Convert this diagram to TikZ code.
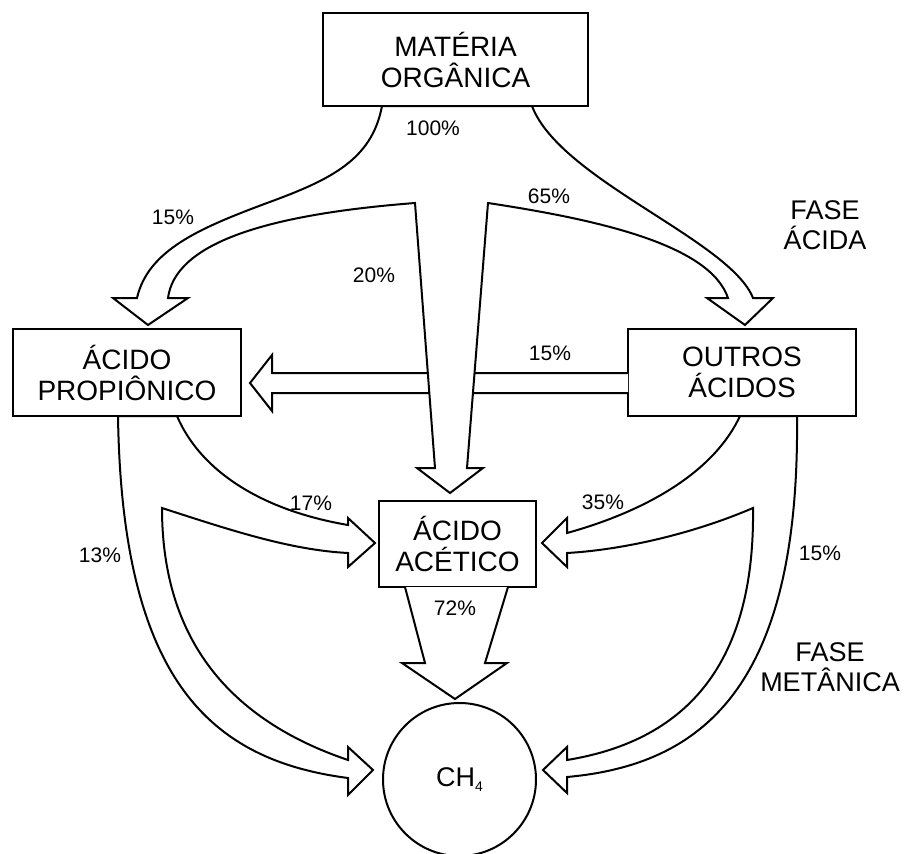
\documentclass[tikz,border=0pt]{standalone}
\usepackage{fontspec}
\setmainfont{Liberation Sans}
\usepackage{tikz}
\tikzstyle{caixa} = [rectangle, draw=black, line width=2pt, align=center, inner sep=0pt, font=\fontsize{28}{31}\selectfont]
\tikzstyle{produto} = [circle, draw=black, line width=2pt, minimum size=153pt, inner sep=0pt, font=\fontsize{27}{31}\selectfont]
\tikzstyle{pct} = [font=\fontsize{21}{25}\selectfont, inner sep=0pt]
\tikzstyle{fase} = [align=center, inner sep=0pt, font=\fontsize{27}{30}\selectfont]
\tikzstyle{seta} = [draw=black, fill=white, line width=2pt, line join=miter]

\begin{document}
\begin{tikzpicture}[x=1pt, y=-1pt]
        \useasboundingbox (0,0) rectangle (906,854);

        % caixas
        \node[caixa, minimum width=265pt, minimum height=93pt] (materia) at (455.5,59.5) {MATÉRIA\\ORGÂNICA};
        \node[caixa, minimum width=228pt, minimum height=87pt] (propionico) at (127,372.5) {ÁCIDO\\PROPIÔNICO};
        \node[caixa, minimum width=228pt, minimum height=87pt] (outros) at (742,372.5) {OUTROS\\ÁCIDOS};
        \node[caixa, minimum width=157pt, minimum height=86pt] (acetico) at (457.5,544) {ÁCIDO\\ACÉTICO};
        \node[produto] (metano) at (459.5,779.5) {CH{\fontsize{14}{14}\selectfont\raisebox{-5pt}{4}}};

        % outros -> propionico (15%)
        \draw[seta] (628,373) -- (272,373) -- (272,355) -- (250,383) -- (272,411) -- (272,393) -- (628,393);

        % materia -> propionico, acetico, outros
        \draw[seta] (382,106) .. controls (372,160) and (330,180) .. (267,203)
            .. controls (200,228) and (148,250) .. (137,298)
            -- (113,298) -- (148,325) -- (188,298) -- (168,298)
            .. controls (175,245) and (260,215) .. (415,203)
            -- (435,468) -- (417,468) -- (450,493) -- (483,468) -- (467,468) -- (488,203)
            .. controls (600,220) and (710,245) .. (728,298)
            -- (707,298) -- (745,325) -- (773,298) -- (753,298)
            .. controls (730,240) and (560,180) .. (532,106) -- cycle;

        % propionico -> metano, acetico
        \draw[seta] (118,416) .. controls (122,680) and (210,760) .. (348,778)
            -- (348,795) -- (373,770) -- (348,747) -- (348,760)
            .. controls (230,720) and (162,640) .. (162,508)
            .. controls (230,530) and (290,550) .. (348,553)
            -- (348,567) -- (375,543) -- (348,518) -- (348,525)
            .. controls (260,510) and (200,470) .. (177,416) -- cycle;

        % outros -> metano, acetico
        \draw[seta] (797,416) .. controls (800,690) and (700,765) .. (567,777)
            -- (567,793) -- (543,770) -- (567,747) -- (567,760)
            .. controls (690,740) and (755,660) .. (753,508)
            .. controls (690,535) and (620,550) .. (567,553)
            -- (567,567) -- (542,543) -- (567,518) -- (567,533)
            .. controls (650,510) and (715,470) .. (740,416) -- cycle;

        % acetico -> metano
        \draw[seta] (405,587) -- (425,663) -- (402,663) -- (455,699) -- (507,663) -- (485,663) -- (508,587);

        % percentagens
        \node[pct] (p100) at (433,128) {100\%};
        \node[pct] (p15a) at (173,217) {15\%};
        \node[pct] (p20)  at (374,275) {20\%};
        \node[pct] (p65)  at (549,196) {65\%};
        \node[pct] (p15b) at (550,353) {15\%};
        \node[pct] (p17)  at (311,503) {17\%};
        \node[pct] (p35)  at (603,502) {35\%};
        \node[pct] (p13)  at (100,555) {13\%};
        \node[pct] (p15c) at (820,553) {15\%};
        \node[pct] (p72)  at (455,608) {72\%};

        % fases
        \node[fase] (acida) at (825,225) {FASE\\ÁCIDA};
        \node[fase] (metanica) at (830,667) {FASE\\METÂNICA};
    \end{tikzpicture}
\end{document}
